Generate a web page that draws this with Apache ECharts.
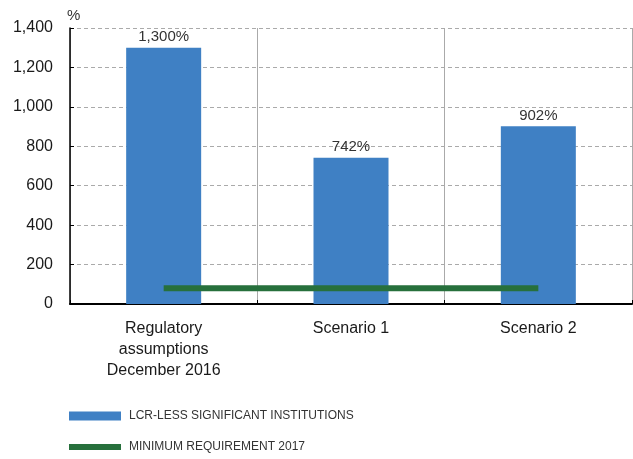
<!DOCTYPE html>
<html><head><meta charset="utf-8">
<script src="https://cdn.jsdelivr.net/npm/echarts@6/dist/echarts.min.js"></script>
<style>html,body{margin:0;padding:0;background:#fff}#c{width:633px;height:459px}</style>
</head><body><div id="c"></div>
<script>
const categories = ['Regulatory\nassumptions\nDecember 2016', 'Scenario 1', 'Scenario 2'];
const lcrValues = [1300, 742, 902];
const minRequirement = [80, 80, 80];
const yTicks = [0, 200, 400, 600, 800, 1000, 1200, 1400];
const seriesNames = ['LCR-LESS SIGNIFICANT INSTITUTIONS', 'MINIMUM REQUIREMENT 2017'];

const fmt = v => v.toLocaleString('en-US');
const chart = echarts.init(document.getElementById('c'), null, {renderer: 'canvas'});
const font = 'Liberation Sans, Arial, Helvetica, sans-serif';
const narrow = '"Liberation Sans Narrow", "Arial Narrow", "Liberation Sans", sans-serif';
chart.setOption({
  animation: false,
  textStyle: {fontFamily: font},
  grid: {left: 70, right: 1, top: 28, bottom: 155, containLabel: false},
  graphic: [{type: 'text', left: 67, top: 8, style: {text: '%', font: '15px ' + font, fill: '#333'}}],
  legend: [{
    left: 69, top: 410, padding: 0, orient: 'vertical', itemWidth: 52, itemHeight: 9, icon: 'rect',
    data: [{name: seriesNames[0], itemStyle: {color: '#3f80c4'}}],
    textStyle: {fontFamily: narrow, fontSize: 12, color: '#333', padding: [0, 0, 0, 3]}
  }, {
    left: 69, top: 441, padding: 0, orient: 'vertical', itemWidth: 52, itemHeight: 6, icon: 'rect',
    data: [{name: seriesNames[1], itemStyle: {color: '#27703c'}}],
    textStyle: {fontFamily: narrow, fontSize: 12, color: '#333', padding: [0, 0, 0, 3]}
  }],
  xAxis: {
    type: 'category', data: categories, boundaryGap: true,
    axisLine: {lineStyle: {color: '#000', width: 2}},
    axisTick: {show: true, inside: true, length: 4, lineStyle: {color: '#000'}},
    splitLine: {show: true, lineStyle: {color: '#aaa', type: 'solid', width: 1}},
    axisLabel: {fontSize: 16, color: '#1a1a1a', lineHeight: 21, margin: 14, fontFamily: font}
  },
  yAxis: {
    type: 'value', min: yTicks[0], max: yTicks[yTicks.length - 1], interval: 200,
    axisLine: {show: true, lineStyle: {color: '#000', width: 1.5}},
    axisTick: {show: true, inside: true, length: 4, lineStyle: {color: '#000'}},
    splitLine: {show: true, lineStyle: {color: '#aaa', type: [4, 3], width: 1}},
    axisLabel: {fontSize: 16, color: '#1a1a1a', margin: 17, formatter: v => fmt(v), fontFamily: font}
  },
  series: [{
    name: seriesNames[0], type: 'bar', data: lcrValues, barWidth: 75,
    itemStyle: {color: '#3f80c4'},
    label: {show: true, position: 'top', distance: 3, fontSize: 15, color: '#333',
      formatter: p => fmt(p.value) + '%'}
  }, {
    name: seriesNames[1], type: 'line', data: minRequirement, symbol: 'none',
    lineStyle: {color: '#27703c', width: 6}, itemStyle: {color: '#27703c'}, z: 5
  }]
});
</script></body></html>
